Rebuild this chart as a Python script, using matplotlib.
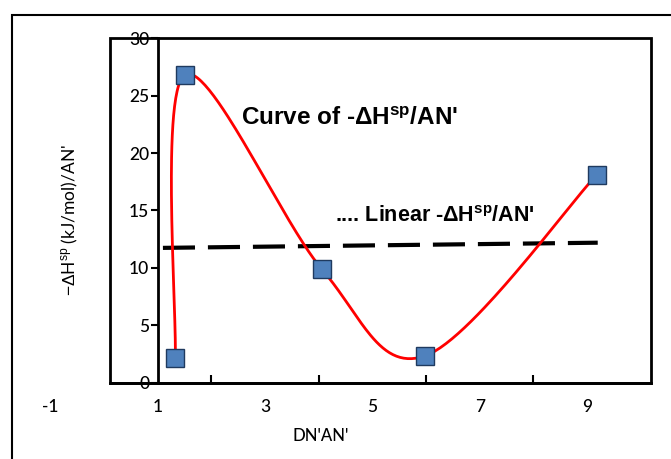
import numpy as np
import matplotlib.pyplot as plt
from matplotlib.patches import Rectangle

# data
dn_an = [1.33, 1.51, 4.06, 5.98, 9.18]
dh_an = [2.17, 26.8, 9.9, 2.35, 18.1]
linear_x = [1.1, 9.2]
linear_y = [11.75, 12.2]
x_labels = [-1, 1, 3, 5, 7, 9]
y_ticks = [0, 5, 10, 15, 20, 25, 30]

plt.rcParams['mathtext.fontset'] = 'custom'
plt.rcParams['mathtext.rm'] = 'Liberation Sans'
plt.rcParams['mathtext.bf'] = 'Liberation Sans:bold'


def smooth(xs, ys, n=60):
    # excel style smoothed line (catmull-rom as cubic bezier)
    p = np.column_stack([xs, ys])
    p = np.vstack([p[0], p, p[-1]])
    out = []
    for i in range(1, len(p) - 2):
        p0, p1, p2, p3 = p[i - 1], p[i], p[i + 1], p[i + 2]
        c1 = p1 + (p2 - p0) / 6
        c2 = p2 - (p3 - p1) / 6
        t = np.linspace(0, 1, n)[:, None]
        seg = (1 - t) ** 3 * p1 + 3 * (1 - t) ** 2 * t * c1 + 3 * (1 - t) * t ** 2 * c2 + t ** 3 * p2
        out.append(seg)
    out = np.vstack(out)
    return out[:, 0], out[:, 1]


fig = plt.figure(figsize=(6.71, 4.59), dpi=100)
ax = fig.add_axes([0.164, 0.1656, 0.806, 0.7516])

# outer border of the figure
fig.patches.append(Rectangle((12 / 671, -0.1), 1.2, 1 - 15 / 459 + 0.1, transform=fig.transFigure,
                             fill=False, lw=1.5, ec='black'))

sx, sy = smooth(dn_an, dh_an)
ax.plot(sx, sy, color='red', lw=2, zorder=3)
ax.plot(dn_an, dh_an, 's', ms=13, mfc='#4F81BD', mec='#1F3A5F', mew=1, zorder=4)
ax.plot(linear_x, linear_y, color='black', lw=3, dashes=(7.7, 3.1), zorder=2)

ax.set_xlim(0.115, 10.19)
ax.set_ylim(0, 30)

# y axis crosses at x = 1
ax.spines['left'].set_position(('data', 1))
ax.spines['left'].set_linewidth(2)
ax.spines['bottom'].set_linewidth(2)
ax.spines['top'].set_visible(False)
ax.spines['right'].set_visible(False)
ax.add_patch(Rectangle((0, 0), 1, 1, transform=ax.transAxes, fill=False, lw=2, ec='black', clip_on=False))

ax.set_yticks(y_ticks)
ax.tick_params(axis='y', direction='out', length=5, width=1.5, labelsize=12.5, pad=1)
for lab in ax.get_yticklabels():
    lab.set_fontfamily('Lato')
    lab.set_fontweight('medium')
ax.set_xticks([2, 4, 6, 8])
ax.set_xticklabels([])
ax.tick_params(axis='x', direction='in', length=6, width=1.5)
for v in x_labels:
    ax.text(v, -0.07, str(v), transform=ax.get_xaxis_transform(), ha='center', va='center',
            fontsize=12.5, family='Lato', fontweight='medium', clip_on=False)

ax.text(4.03, -0.155, "DN'AN'", transform=ax.get_xaxis_transform(), ha='center', va='center',
        fontsize=12, family='Lato', fontweight='medium', clip_on=False)
fig.text(70 / 671, 1 - 220 / 459, r"$-\Delta$H$^{\rm sp}$ (kJ/mol)/AN'", rotation=90,
         ha='center', va='center', fontsize=12.5, family='Lato')

ax.text(2.55, 23.0, r"Curve of -ΔH$^{\bf sp}$/AN'", fontsize=17.5, fontweight='bold',
        family='Liberation Sans', va='center')
ax.text(4.3, 14.5, r".... Linear -ΔH$^{\bf sp}$/AN'", fontsize=15.5, fontweight='bold',
        family='Liberation Sans', va='center')

fig.savefig('out.png', dpi=100)
